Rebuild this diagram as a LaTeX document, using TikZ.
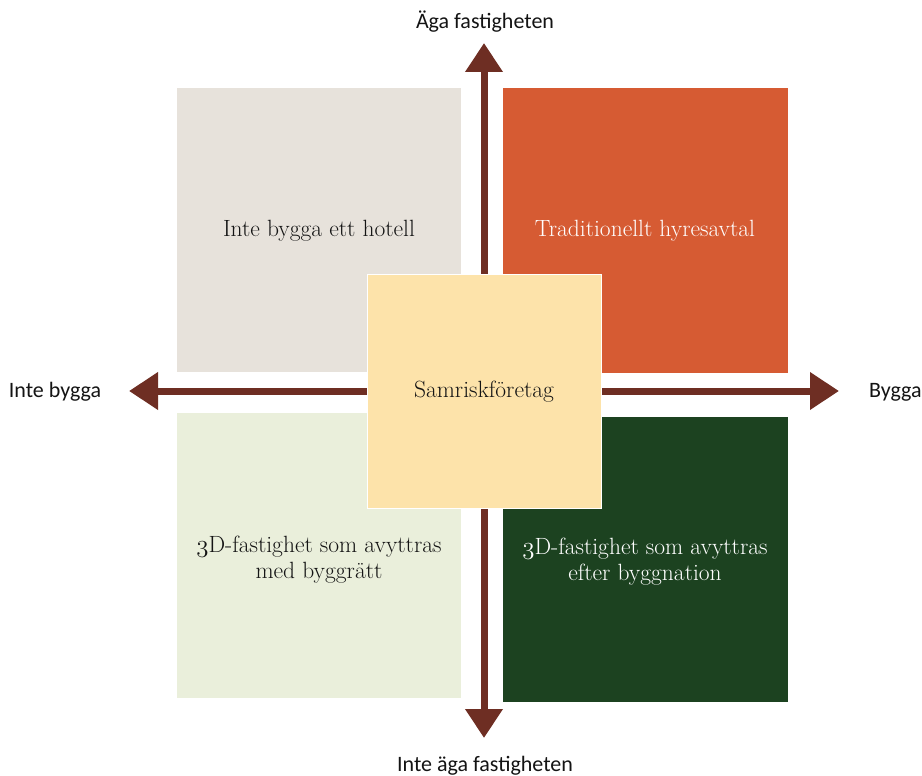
\documentclass[tikz,border=0pt]{standalone}
\usepackage{fontspec}
\newfontfamily\labelfont{Carlito}
\usetikzlibrary{arrows.meta}
\definecolor{arrowbrown}{HTML}{6E2E23}
\definecolor{boxgray}{HTML}{E7E2DB}
\definecolor{boxorange}{HTML}{D65B33}
\definecolor{boxlight}{HTML}{EAEFDB}
\definecolor{boxdark}{HTML}{1C4220}
\definecolor{boxyellow}{HTML}{FDE3AA}
\definecolor{textdark}{HTML}{141414}
\newcommand{\ostthree}{{\usefont{OML}{cmm}{m}{it}3}}
\begin{document}
\begin{tikzpicture}[x=1pt,y=-1pt,
  boxtext/.style={font=\fontsize{23.5}{26}\selectfont, align=center, text=textdark},
  axislabel/.style={font=\labelfont\fontsize{22}{25}\selectfont, text=textdark},
  axisarrow/.style={draw=arrowbrown, line width=7pt,
    {Triangle[length=29pt,width=36pt]}-{Triangle[length=29pt,width=36pt]}}]
\useasboundingbox (0,0) rectangle (922,776);
% arrows
\coordinate (top) at (484,43);
\coordinate (bottom) at (484,738);
\coordinate (left) at (129,391);
\coordinate (right) at (839,391);
\draw[axisarrow] (bottom) -- (top);
\draw[axisarrow] (left) -- (right);
% quadrants
\fill[boxgray] (177,88) rectangle (461,372);
\fill[boxorange] (503,88) rectangle (788,373);
\fill[boxlight] (177,413) rectangle (461,698);
\fill[boxdark] (503,417) rectangle (788,702);
\filldraw[fill=boxyellow, draw=white, line width=1pt] (367,274) rectangle (601,508);
% box texts
\node[boxtext] (tl) at (319,231) {Inte bygga ett hotell};
\node[boxtext, text=white] (tr) at (645,231) {Traditionellt hyresavtal};
\node[boxtext] (bl) at (319,560) {\ostthree D-fastighet som avyttras\\med byggrätt};
\node[boxtext, text=white] (br) at (645,562) {\ostthree D-fastighet som avyttras\\efter byggnation};
\node[boxtext] (c) at (484,392) {Samriskföretag};
% axis labels
\node[axislabel] (la) at (485,22) {Äga fastigheten};
\node[axislabel] (lb) at (485,766) {Inte äga fastigheten};
\node[axislabel] (lc) at (55,392) {Inte bygga};
\node[axislabel, anchor=west, inner sep=0pt] (ld) at (869,392) {Bygga};
\end{tikzpicture}
\end{document}
